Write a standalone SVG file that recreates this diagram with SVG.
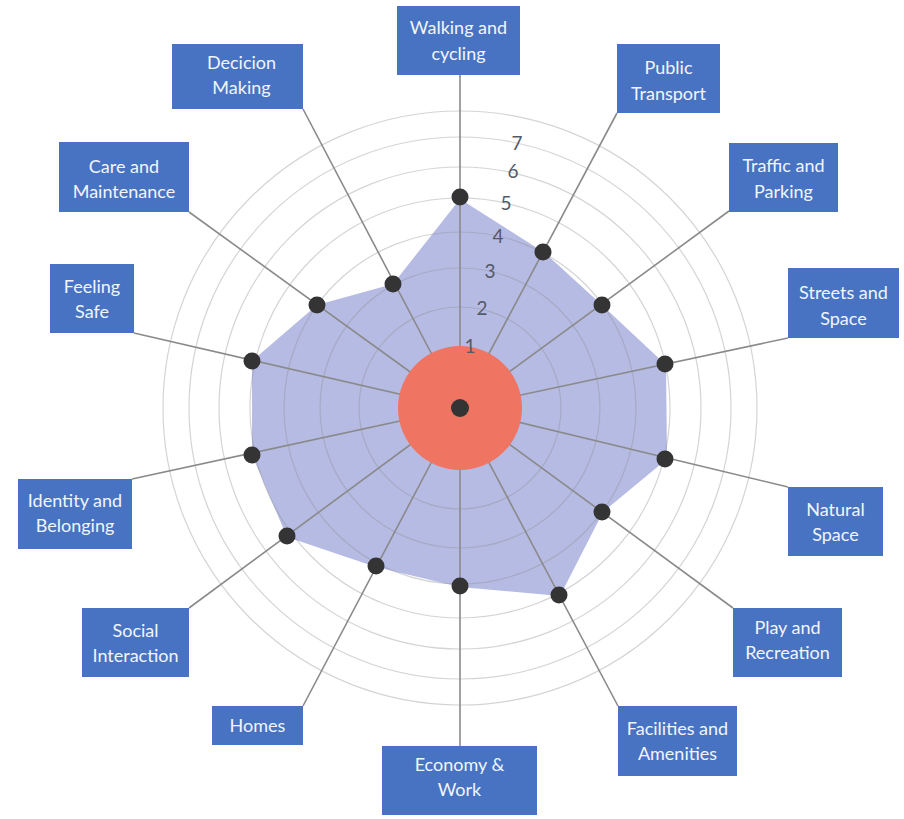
<svg xmlns="http://www.w3.org/2000/svg" width="904" height="819" viewBox="0 0 904 819">
<style>
.box{fill:#4773C2}
.lbl{font-family:Lato,"Open Sans","Liberation Sans",sans-serif;font-size:18px;fill:#F2F5FB;text-anchor:middle}
.ring{fill:none;stroke:#8f8f8f;stroke-opacity:0.38;stroke-width:1.2}
.spoke{stroke:#8a8a8a;stroke-width:1.6;fill:none}
.dot{fill:#343434}
.num{font-family:Lato,"Open Sans","Liberation Sans",sans-serif;font-size:19px;fill:#555a66;text-anchor:middle}
</style>
<rect width="904" height="819" fill="#ffffff"/>
<polygon id="data-area" points="460,199 545,253 603,306 666,365 667,459 603,512 560,596 460,587 376,567 287,537 252,455 252,361 317,305 393,284" fill="#B6BBE4"/>
<g id="rings">
<circle class="ring" cx="460" cy="408" r="101"/>
<circle class="ring" cx="460" cy="408" r="140"/>
<circle class="ring" cx="460" cy="408" r="176"/>
<circle class="ring" cx="460" cy="408" r="210"/>
<circle class="ring" cx="460" cy="408" r="241"/>
<circle class="ring" cx="460" cy="408" r="271"/>
<circle class="ring" cx="460" cy="408" r="297"/>
</g>
<g id="connectors">
<line class="spoke" x1="460" y1="408" x2="460" y2="75"/>
<line class="spoke" x1="460" y1="408" x2="617" y2="113"/>
<line class="spoke" x1="460" y1="408" x2="729" y2="211"/>
<line class="spoke" x1="460" y1="408" x2="788" y2="338"/>
<line class="spoke" x1="460" y1="408" x2="788" y2="487"/>
<line class="spoke" x1="460" y1="408" x2="733" y2="608"/>
<line class="spoke" x1="460" y1="408" x2="618" y2="706"/>
<line class="spoke" x1="460" y1="408" x2="460" y2="746"/>
<line class="spoke" x1="460" y1="408" x2="303" y2="706"/>
<line class="spoke" x1="460" y1="408" x2="189" y2="608"/>
<line class="spoke" x1="460" y1="408" x2="132" y2="479"/>
<line class="spoke" x1="460" y1="408" x2="134" y2="333"/>
<line class="spoke" x1="460" y1="408" x2="189" y2="212"/>
<line class="spoke" x1="460" y1="408" x2="303" y2="109"/>
</g>
<circle id="core" cx="460" cy="408" r="62" fill="#EF7462"/>
<g id="dots">
<circle class="dot" cx="460" cy="408" r="9"/>
<circle class="dot" cx="460" cy="197" r="8.5"/>
<circle class="dot" cx="543" cy="252" r="8.5"/>
<circle class="dot" cx="602" cy="305" r="8.5"/>
<circle class="dot" cx="665" cy="364" r="8.5"/>
<circle class="dot" cx="665" cy="459" r="8.5"/>
<circle class="dot" cx="602" cy="512" r="8.5"/>
<circle class="dot" cx="559" cy="595" r="8.5"/>
<circle class="dot" cx="460" cy="586" r="8.5"/>
<circle class="dot" cx="376" cy="566" r="8.5"/>
<circle class="dot" cx="287" cy="536" r="8.5"/>
<circle class="dot" cx="252" cy="455" r="8.5"/>
<circle class="dot" cx="252" cy="361" r="8.5"/>
<circle class="dot" cx="317" cy="305" r="8.5"/>
<circle class="dot" cx="393" cy="284" r="8.5"/>
</g>
<g id="scale">
<text class="num" x="470" y="353">1</text>
<text class="num" x="482" y="315">2</text>
<text class="num" x="490" y="278">3</text>
<text class="num" x="498" y="243">4</text>
<text class="num" x="506" y="210">5</text>
<text class="num" x="513" y="178">6</text>
<text class="num" x="517" y="150">7</text>
</g>
<g id="walking"><rect class="box" x="397" y="6" width="123" height="69"/><text class="lbl" x="458.5" y="34">Walking and</text><text class="lbl" x="458.5" y="60">cycling</text></g>
<g id="public-transport"><rect class="box" x="617" y="44" width="103" height="69"/><text class="lbl" x="668.5" y="74">Public</text><text class="lbl" x="668.5" y="100">Transport</text></g>
<g id="traffic"><rect class="box" x="729" y="143" width="109" height="69"/><text class="lbl" x="783.5" y="172">Traffic and</text><text class="lbl" x="783.5" y="198">Parking</text></g>
<g id="streets"><rect class="box" x="788" y="268" width="111" height="70"/><text class="lbl" x="843.5" y="299">Streets and</text><text class="lbl" x="843.5" y="325">Space</text></g>
<g id="natural"><rect class="box" x="788" y="487" width="95" height="69"/><text class="lbl" x="835.5" y="516">Natural</text><text class="lbl" x="835.5" y="541">Space</text></g>
<g id="play"><rect class="box" x="733" y="608" width="109" height="69"/><text class="lbl" x="787.5" y="634">Play and</text><text class="lbl" x="787.5" y="659">Recreation</text></g>
<g id="facilities"><rect class="box" x="618" y="706" width="119" height="70"/><text class="lbl" x="677.5" y="735">Facilities and</text><text class="lbl" x="677.5" y="760">Amenities</text></g>
<g id="economy"><rect class="box" x="382" y="746" width="155" height="69"/><text class="lbl" x="459.5" y="771">Economy &amp;</text><text class="lbl" x="459.5" y="796">Work</text></g>
<g id="homes"><rect class="box" x="212" y="706" width="91" height="39"/><text class="lbl" x="257.5" y="732">Homes</text></g>
<g id="social"><rect class="box" x="82" y="608" width="107" height="69"/><text class="lbl" x="135.5" y="637">Social</text><text class="lbl" x="135.5" y="662">Interaction</text></g>
<g id="identity"><rect class="box" x="18" y="479" width="114" height="70"/><text class="lbl" x="75" y="507">Identity and</text><text class="lbl" x="75" y="532">Belonging</text></g>
<g id="feeling-safe"><rect class="box" x="50" y="264" width="84" height="69"/><text class="lbl" x="92" y="293">Feeling</text><text class="lbl" x="92" y="318">Safe</text></g>
<g id="care"><rect class="box" x="59" y="142" width="130" height="70"/><text class="lbl" x="124" y="173">Care and</text><text class="lbl" x="124" y="198">Maintenance</text></g>
<g id="decision"><rect class="box" x="172" y="44" width="131" height="65"/><text class="lbl" x="241.5" y="69">Decicion</text><text class="lbl" x="241.5" y="94">Making</text></g>
</svg>
